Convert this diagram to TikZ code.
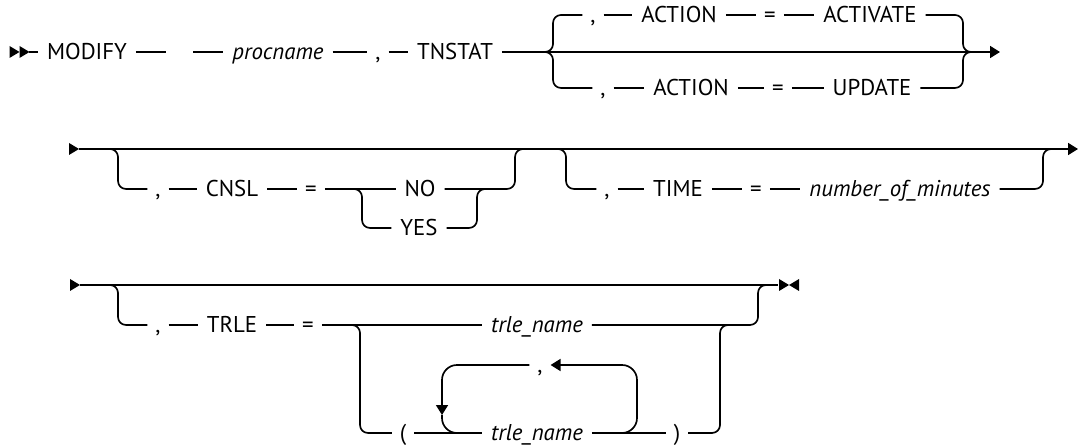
\documentclass[tikz,border=0pt]{standalone}
\usepackage{fontspec}
\setmainfont{PT Sans}
\usetikzlibrary{arrows.meta}
\newcommand{\railfont}{\fontsize{13}{15}\selectfont}
\newcommand{\railR}[1]{\fill (#1) -- ++(-10,-6) -- ++(0,12) -- cycle;}
\newcommand{\railL}[1]{\fill (#1) -- ++(10,-6) -- ++(0,12) -- cycle;}

\begin{document}
\begin{tikzpicture}[
    x=0.02cm, y=-0.02cm,
    line width=0.95pt,
    font=\railfont,
    kw/.style={inner sep=0pt, outer xsep=0.18cm, outer ysep=0pt, text height=9.1pt, text depth=0pt},
    var/.style={kw, font=\railfont\itshape},
    sym/.style={kw, outer xsep=0.16cm},
    brace/.style={rounded corners=0.16cm},
    loopline/.style={rounded corners=0.3cm},
    arrow/.style={-{Triangle[length=0.2cm,width=0.24cm]}}
]
\useasboundingbox (0,0) rectangle (1078,445);

% row 1
\railR{19.5,52}
\railR{29.5,52}
\coordinate (startA) at (29,52);
\node[kw] (modify) at (87,52) {MODIFY};
\coordinate (gapa) at (166,52);
\coordinate (gapb) at (193,52);
\node[var] (procname) at (278,52) {procname};
\node[sym] (comA) at (378,52) {,};
\node[kw] (tnstat) at (455,52) {TNSTAT};
\coordinate (brA) at (545,52);
\coordinate (jnA) at (963,52);
\coordinate (endA) at (1000,52);

\node[sym] (comAu) at (593,15) {,};
\node[kw] (actAu) at (679,15) {ACTION};
\node[sym] (eqAu) at (770,15) {=};
\node[kw] (activate) at (870,15) {ACTIVATE};

\node[sym] (comAd) at (603,88) {,};
\node[kw] (actAd) at (691,88) {ACTION};
\node[sym] (eqAd) at (778,88) {=};
\node[kw] (update) at (872,88) {UPDATE};

\draw (startA) -- (modify) -- (gapa);
\draw (gapb) -- (procname) -- (comA) -- (tnstat);
\draw[arrow] (tnstat) -- (endA);
\draw[brace] (brA) -- ++(8,0) |- (comAu.west);
\draw (comAu) -- (actAu) -- (eqAu) -- (activate);
\draw[brace] (activate.east) -| (jnA) -- ++(9,0);
\draw[brace] (brA) -- ++(8,0) |- (comAd.west);
\draw (comAd) -- (actAd) -- (eqAd) -- (update);
\draw[brace] (update.east) -| (jnA) -- ++(9,0);

% row 2
\railR{79,149}
\coordinate (startB) at (79,149);
\coordinate (endB) at (1078,149);
\draw[arrow] (startB) -- (endB);
\coordinate (brB) at (108,149);
\coordinate (jnB) at (515,149);
\node[sym] (comB) at (158,189) {,};
\node[kw] (cnsl) at (232,189) {CNSL};
\node[sym] (eqB) at (311,189) {=};
\node[kw] (no) at (420,189) {NO};
\node[kw] (yes) at (419,228) {YES};
\coordinate (brYes) at (352,189);
\coordinate (jnYes) at (477,189);

\draw[brace] (brB) -- ++(10,0) |- (comB.west);
\draw (comB) -- (cnsl) -- (eqB) -- (no);
\draw[brace] (no.east) -| (jnB) -- ++(12,0);
\draw[brace] (brYes) -- ++(10,0) |- (yes.west);
\draw[brace] (yes.east) -| (jnYes) -- ++(6,0);

\coordinate (brC) at (557,149);
\coordinate (jnC) at (1043,149);
\node[sym] (comC) at (607,189) {,};
\node[kw] (time) at (678,189) {TIME};
\node[sym] (eqC) at (756,189) {=};
\node[var] (minutes) at (900,189) {number\_of\_minutes};

\draw[brace] (brC) -- ++(9,0) |- (comC.west);
\draw (comC) -- (time) -- (eqC) -- (minutes);
\draw[brace] (minutes.east) -| (jnC) -- ++(9,0);

% row 3
\railR{80,285}
\coordinate (startC) at (80,285);
\coordinate (endC) at (778,285);
\draw (startC) -- (endC);
\railR{789,285}
\railL{789,285}
\coordinate (brD) at (110,285);
\coordinate (jnD) at (758,285);
\node[sym] (comD) at (158,325) {,};
\node[kw] (trle) at (232,325) {TRLE};
\node[sym] (eqD) at (308,325) {=};
\node[var] (trlename) at (537,325) {trle\_name};
\coordinate (brE) at (350,325);
\coordinate (jnE) at (720,325);
\node[sym] (popen) at (403,433) {(};
\node[var] (trlenameb) at (537,433) {trle\_name};
\node[sym] (pclose) at (677,433) {)};
\node[sym] (comE) at (540,365) {,};
\coordinate (loopSE) at (615,433);
\coordinate (loopNE) at (637,365);
\coordinate (loopArr) at (442,415);
\coordinate (loopSW) at (460,433);

\draw[brace] (brD) -- ++(8,0) |- (comD.west);
\draw (comD) -- (trle) -- (eqD) -- (trlename);
\draw[brace] (trlename.east) -| (jnD) -- ++(10,0);
\draw[brace] (brE) -- ++(10,0) |- (popen.west);
\draw (popen) -- (trlenameb) -- (pclose);
\draw[brace] (pclose.east) -| (jnE) -- ++(8,0);
\draw[loopline, arrow] (loopSE) -| (loopNE) -- (comE.east);
\draw[loopline, arrow] (comE.west) -| (loopArr);
\draw[loopline] (loopArr) |- (loopSW);
\end{tikzpicture}
\end{document}
